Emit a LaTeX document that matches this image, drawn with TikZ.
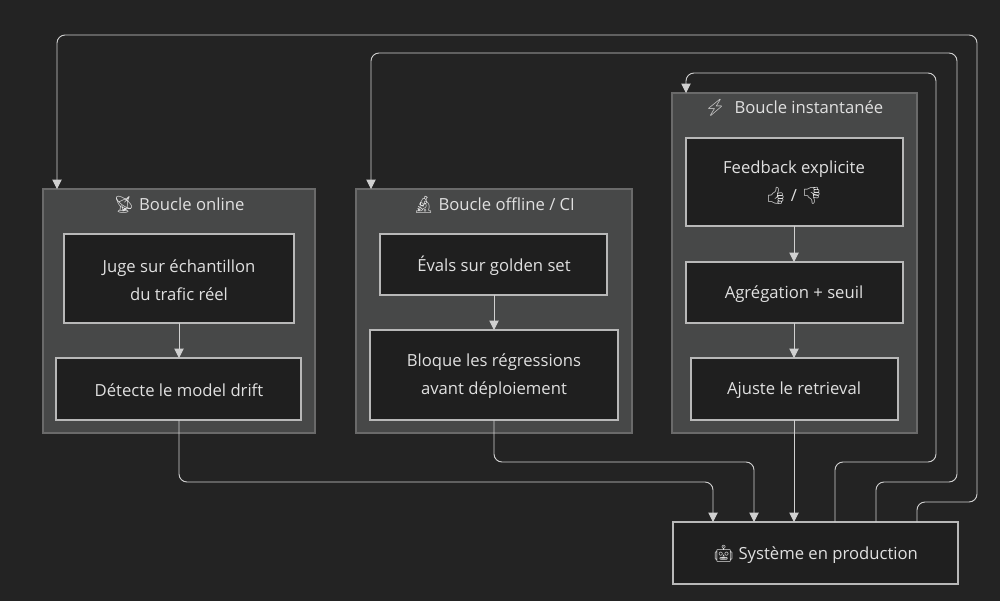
\documentclass[tikz,border=0pt]{standalone}
\usepackage{fontspec}
\setmainfont{Open Sans}
\newfontfamily\emo{Noto Emoji}
\usetikzlibrary{arrows.meta}
\definecolor{bg}{HTML}{232323}
\definecolor{clfill}{HTML}{474848}
\definecolor{clline}{HTML}{6A6A6A}
\definecolor{ndfill}{HTML}{1F1F1F}
\definecolor{ndline}{HTML}{B8B8B8}
\definecolor{txt}{HTML}{E0E0E0}
\definecolor{edge}{HTML}{D0D0D0}
\begin{document}
\begin{tikzpicture}[x=0.75pt,y=-0.75pt,
  font=\fontsize{12.5}{21}\selectfont,
  cluster/.style={draw=clline,fill=clfill,line width=0.8pt},
  box/.style={draw=ndline,fill=ndfill,line width=0.8pt},
  lbl/.style={text=txt,align=center},
  conn/.style={draw=edge,line width=0.7pt,rounded corners=6pt,-{Triangle[length=7pt,width=7pt]}}]
\fill[bg] (0,0) rectangle (1000,601);
\useasboundingbox (0,0) rectangle (1000,601);
% clusters
\draw[cluster] (43,189) rectangle (315,433);
\draw[cluster] (356,189) rectangle (632,433);
\draw[cluster] (672,93) rectangle (917,433);
\node[lbl] (t1) at (179,205) {{\emo 📡}\ Boucle online};
\node[lbl] (t2) at (494,205) {{\emo 🔬}\ Boucle offline / CI};
\node[lbl] (t3) at (794,108) {{\emo ⚡}\ \ Boucle instantanée};
% nodes
\draw[box] (64,234) rectangle (294,323); \node[lbl] (juge) at (179,280) {Juge sur échantillon\\du trafic réel};
\draw[box] (56,358) rectangle (301,420); \node[lbl] (det) at (179,390) {Détecte le model drift};
\draw[box] (380,234) rectangle (607,295); \node[lbl] (eval) at (494,266) {Évals sur golden set};
\draw[box] (370,330) rectangle (618,420); \node[lbl] (bloq) at (494,376) {Bloque les régressions\\avant déploiement};
\draw[box] (686,138) rectangle (903,226); \node[lbl] (fb) at (794,183) {Feedback explicite\\{\emo 👍} / {\emo 👎}};
\draw[box] (686,262) rectangle (903,323); \node[lbl] (agg) at (794,294) {Agrégation + seuil};
\draw[box] (691,358) rectangle (898,420); \node[lbl] (aj) at (794,390) {Ajuste le retrieval};
\draw[box] (673,522) rectangle (958,584); \node[lbl] (sys) at (815.5,554) {{\emo 🤖}\ Système en production};
% coordinates at box edges
\coordinate (jugeB) at (179,323); \coordinate (detT) at (179,358); \coordinate (detB) at (179,420);
\coordinate (evalB) at (494,295); \coordinate (bloqT) at (494,330); \coordinate (bloqB) at (494,420);
\coordinate (fbB) at (794,226); \coordinate (aggT) at (794,262); \coordinate (aggB) at (794,323);
\coordinate (ajT) at (794,358); \coordinate (ajB) at (794,420);
\coordinate (c1) at (57,189); \coordinate (c2) at (371,189); \coordinate (c3) at (686,93);
% edges
\draw[conn] (jugeB) -- (detT);
\draw[conn] (evalB) -- (bloqT);
\draw[conn] (fbB) -- (aggT);
\draw[conn] (aggB) -- (ajT);
\draw[conn] (detB) |- (450,482) -| (713,522);
\draw[conn] (bloqB) |- (600,462) -| (754,522);
\draw[conn] (ajB) -- (794,522);
\draw[conn] (835,522) |- (936,462) |- (800,73) -| (c3);
\draw[conn] (876,522) |- (957,482) |- (600,53) -| (c2);
\draw[conn] (917,522) |- (977,502) |- (300,35) -| (c1);
\end{tikzpicture}
\end{document}
